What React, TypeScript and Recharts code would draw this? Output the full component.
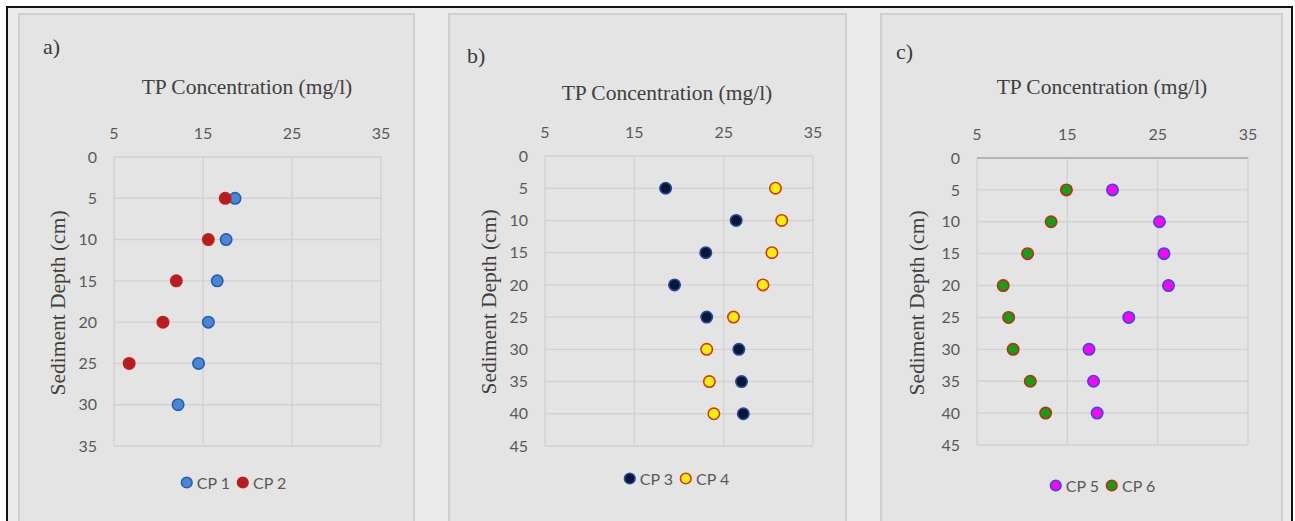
import React from 'react';
import { ScatterChart, Scatter, XAxis, YAxis, CartesianGrid } from 'recharts';

const concTicks = [5, 15, 25, 35];
const depthTicksA = [0, 5, 10, 15, 20, 25, 30, 35];
const depthTicksBC = [0, 5, 10, 15, 20, 25, 30, 35, 40, 45];

const depthCp1 = [5, 10, 15, 20, 25, 30];
const cp1 = [18.6, 17.6, 16.6, 15.6, 14.5, 12.2];
const depthCp2 = [5, 10, 15, 20, 25];
const cp2 = [17.5, 15.6, 12.0, 10.5, 6.7];

const depthB = [5, 10, 15, 20, 25, 30, 35, 40];
const cp3 = [18.5, 26.4, 23.0, 19.5, 23.1, 26.7, 27.0, 27.2];
const cp4 = [30.8, 31.5, 30.4, 29.4, 26.1, 23.1, 23.4, 23.9];

const depthC = [5, 10, 15, 20, 25, 30, 35, 40];
const cp5 = [20.0, 25.2, 25.7, 26.2, 21.8, 17.4, 17.9, 18.3];
const cp6 = [14.9, 13.2, 10.6, 7.9, 8.5, 9.0, 10.9, 12.6];

const SERIF = "'Liberation Serif', 'DejaVu Serif', serif";
const SANS = "Lato, 'Open Sans', sans-serif";

type Series = { name: string; values: number[]; depths: number[]; fill: string; stroke: string };

type PanelProps = {
  tag: string;
  panel: { left: number; width: number };
  plot: { left: number; top: number; width: number; height: number };
  tagPos: [number, number];
  titlePos: [number, number];
  ylabelPos: [number, number];
  legendPos: [number, number];
  depthTicks: number[];
  series: Series[];
  topLine?: boolean;
};

const dot = (fill: string, stroke: string) => (props: any) => (
  <circle cx={props.cx} cy={props.cy} r={5.7} fill={fill} stroke={stroke} strokeWidth={1.6} />
);

function Panel(p: PanelProps) {
  const chartLeft = p.plot.left - 100;
  const chartTop = p.plot.top - 150;
  const yMax = p.depthTicks[p.depthTicks.length - 1];
  return (
    <>
      <div
        style={{
          position: 'absolute',
          left: p.panel.left,
          top: 13,
          width: p.panel.width - 4,
          height: 540,
          background: '#e4e4e4',
          border: '2px solid #cfcfcf',
        }}
      />
      <div style={{ position: 'absolute', left: chartLeft, top: chartTop }}>
        <ScatterChart
          width={p.plot.width + 120}
          height={p.plot.height + 160}
          margin={{ left: 70, top: 120, right: 20, bottom: 10 }}
        >
          <CartesianGrid stroke="#d2d2d2" strokeWidth={1.4} />
          <XAxis
            type="number"
            dataKey="x"
            orientation="top"
            domain={[5, 35]}
            ticks={concTicks}
            height={30}
            axisLine={p.topLine ? { stroke: '#a8a8a8', strokeWidth: 1.4 } : false}
            tickLine={false}
            tickSize={0}
            tickMargin={18}
            tick={{ fill: '#595959', fontSize: 16, fontFamily: SANS }}
            interval={0}
          />
          <YAxis
            type="number"
            dataKey="y"
            reversed
            domain={[0, yMax]}
            ticks={p.depthTicks}
            width={30}
            axisLine={false}
            tickLine={false}
            tickSize={0}
            tickMargin={17}
            tick={{ fill: '#595959', fontSize: 16, fontFamily: SANS }}
            interval={0}
          />
          {p.series.map((s) => (
            <Scatter
              key={s.name}
              name={s.name}
              data={s.depths.map((d, i) => ({ x: s.values[i], y: d }))}
              shape={dot(s.fill, s.stroke)}
              isAnimationActive={false}
            />
          ))}
        </ScatterChart>
      </div>
      <div
        style={{
          position: 'absolute',
          left: p.tagPos[0],
          top: p.tagPos[1],
          transform: 'translateY(-50%)',
          fontFamily: SERIF,
          fontSize: 22,
          color: '#3a3a3a',
          lineHeight: 1,
        }}
      >
        {p.tag}
      </div>
      <div
        style={{
          position: 'absolute',
          left: p.titlePos[0],
          top: p.titlePos[1],
          transform: 'translate(-50%, -50%)',
          fontFamily: SERIF,
          fontSize: 21.5,
          color: '#404040',
          whiteSpace: 'nowrap',
          lineHeight: 1,
        }}
      >
        TP Concentration (mg/l)
      </div>
      <div
        style={{
          position: 'absolute',
          left: p.ylabelPos[0],
          top: p.ylabelPos[1],
          transform: 'translate(-50%, -50%) rotate(-90deg)',
          fontFamily: SERIF,
          fontSize: 21.5,
          color: '#404040',
          whiteSpace: 'nowrap',
          lineHeight: 1,
        }}
      >
        Sediment Depth (cm)
      </div>
      <div
        style={{
          position: 'absolute',
          left: p.legendPos[0],
          top: p.legendPos[1],
          transform: 'translate(-50%, -50%)',
          display: 'flex',
          alignItems: 'center',
          whiteSpace: 'nowrap',
          fontFamily: SANS,
          fontSize: 16,
          color: '#595959',
        }}
      >
        {p.series.map((s) => (
          <span key={s.name} style={{ display: 'flex', alignItems: 'center', marginRight: 6 }}>
            <svg width={14} height={14} style={{ marginRight: 3 }}>
              <circle cx={7} cy={7} r={5.3} fill={s.fill} stroke={s.stroke} strokeWidth={1.6} />
            </svg>
            {s.name}
          </span>
        ))}
      </div>
    </>
  );
}

export default function App() {
  return (
    <div style={{ position: 'absolute', left: 0, top: 0, width: 1295, height: 521, overflow: 'hidden', background: '#fff' }}>
      <style>{'body{margin:0;overflow:hidden}'}</style>
      <div
        style={{
          position: 'absolute',
          left: 6,
          top: 6,
          width: 1283,
          height: 540,
          background: '#ebebeb',
          borderTop: '2px solid #111',
          borderLeft: '2px solid #111',
          borderRight: '2px solid #111',
        }}
      />
      <Panel
        tag="a)"
        panel={{ left: 18, width: 397 }}
        plot={{ left: 114, top: 157, width: 267, height: 289 }}
        tagPos={[43, 47]}
        titlePos={[247, 88]}
        ylabelPos={[59, 303]}
        legendPos={[236, 482]}
        depthTicks={depthTicksA}
        series={[
          { name: 'CP 1', values: cp1, depths: depthCp1, fill: '#4a86d8', stroke: '#2a5cb0' },
          { name: 'CP 2', values: cp2, depths: depthCp2, fill: '#b81c1c', stroke: '#c02020' },
        ]}
      />
      <Panel
        tag="b)"
        panel={{ left: 448, width: 399 }}
        plot={{ left: 545, top: 156, width: 268, height: 290 }}
        tagPos={[467, 56]}
        titlePos={[667, 94]}
        ylabelPos={[490, 302]}
        legendPos={[679, 478]}
        depthTicks={depthTicksBC}
        series={[
          { name: 'CP 3', values: cp3, depths: depthB, fill: '#0a1638', stroke: '#1f4c9c' },
          { name: 'CP 4', values: cp4, depths: depthB, fill: '#ffee00', stroke: '#d03a1c' },
        ]}
      />
      <Panel
        tag="c)"
        panel={{ left: 880, width: 403 }}
        plot={{ left: 977, top: 158, width: 271, height: 287 }}
        tagPos={[896, 52]}
        titlePos={[1102, 88]}
        ylabelPos={[918, 303]}
        legendPos={[1105, 485]}
        depthTicks={depthTicksBC}
        topLine
        series={[
          { name: 'CP 5', values: cp5, depths: depthC, fill: '#ff00ff', stroke: '#2f50d0' },
          { name: 'CP 6', values: cp6, depths: depthC, fill: '#10a010', stroke: '#c02a1a' },
        ]}
      />
    </div>
  );
}
